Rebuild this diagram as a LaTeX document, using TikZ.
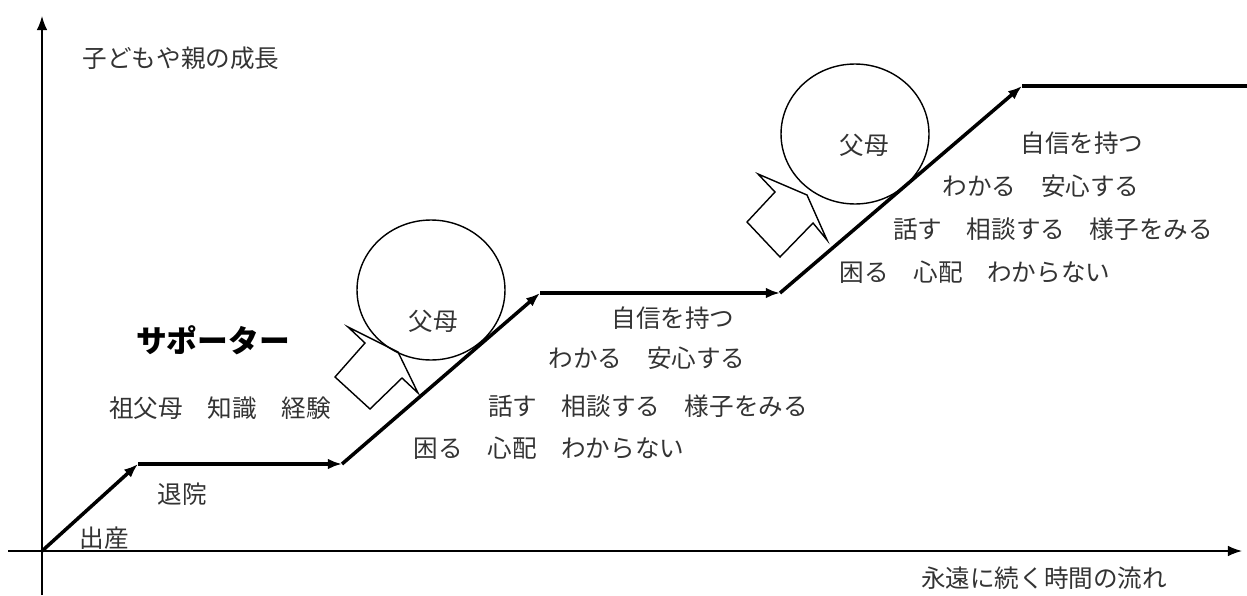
\documentclass[tikz,border=0pt]{standalone}
\usepackage{fontspec}
\setmainfont{Noto Sans CJK JP}
\usetikzlibrary{arrows.meta,shapes.geometric}
\begin{document}
\begin{tikzpicture}[x=0.02cm, y=-0.02cm]
	\useasboundingbox (0,0) rectangle (1247,595);
	\begin{scope} [every node/.style={inner sep=0pt}]
		\coordinate (ybot) at (42,595);
		\coordinate (ytop) at (42,16);
		\coordinate (xleft) at (8,551);
		\coordinate (xright) at (1242,551);
		\coordinate (p0) at (42,551);
		\coordinate (p1) at (138,464);
		\coordinate (p2) at (342,464);
		\coordinate (p3) at (540,293);
		\coordinate (p4) at (780,293);
		\coordinate (p5) at (1022,86);
		\coordinate (p6) at (1247,86);
	\end{scope}
	\begin{scope} [every node/.style={ellipse, draw, thick, minimum width=2.96cm, minimum height=2.8cm, inner sep=0pt}]
		\node (c1) at (431,290){};
		\node (c2) at (855,134){};
	\end{scope}
	\begin{scope} [every node/.style={inner sep=0pt, text=black!80, font=\fontsize{14}{16}\selectfont}]
		\node (growth) at (181,58){子どもや親の成長};
		\node (time) at (1044,578){永遠に続く時間の流れ};
		\node (birth) at (104,538){出産};
		\node (leave) at (182,494){退院};
		\node (family) at (220,408){祖父母　知識　経験};
		\node (par1) at (433,321){父母};
		\node (par2) at (864,145){父母};
		\node (conf1) at (673,318){自信を持つ};
		\node (know1) at (647,358){わかる　安心する};
		\node (talk1) at (648,406){話す　相談する　様子をみる};
		\node (worry1) at (549,448){困る　心配　わからない};
		\node (conf2) at (1082,143){自信を持つ};
		\node (know2) at (1041,186){わかる　安心する};
		\node (talk2) at (1053,229){話す　相談する　様子をみる};
		\node (worry2) at (975,272){困る　心配　わからない};
	\end{scope}
	\node[inner sep=0pt, font=\fontsize{17.5}{20}\selectfont\bfseries] (supp) at (213,340){サポーター};
	\draw[thick, -{Latex[length=8pt,width=6pt]}] (ybot) -- (ytop);
	\draw[thick, -{Latex[length=8pt,width=6pt]}] (xleft) -- (xright);
	\draw[line width=2pt, -{Latex[length=8pt,width=6pt]}] (p0) -- (p1);
	\draw[line width=2pt, -{Latex[length=8pt,width=6pt]}] (p1) -- (p2);
	\draw[line width=2pt, -{Latex[length=8pt,width=6pt]}] (p2) -- (p3);
	\draw[line width=2pt, -{Latex[length=8pt,width=6pt]}] (p3) -- (p4);
	\draw[line width=2pt, -{Latex[length=8pt,width=6pt]}] (p4) -- (p5);
	\draw[line width=2pt] (p5) -- (p6);
	\draw[thick, line join=miter] (348,327) -- (398,352) -- (418,393) -- (402,378) -- (370,409) -- (335,377) -- (365,343) -- cycle;
	\draw[thick, line join=miter] (758,174) -- (807,195) -- (827,240) -- (813,223) -- (780,257) -- (747,222) -- (775,192) -- cycle;
\end{tikzpicture}
\end{document}
